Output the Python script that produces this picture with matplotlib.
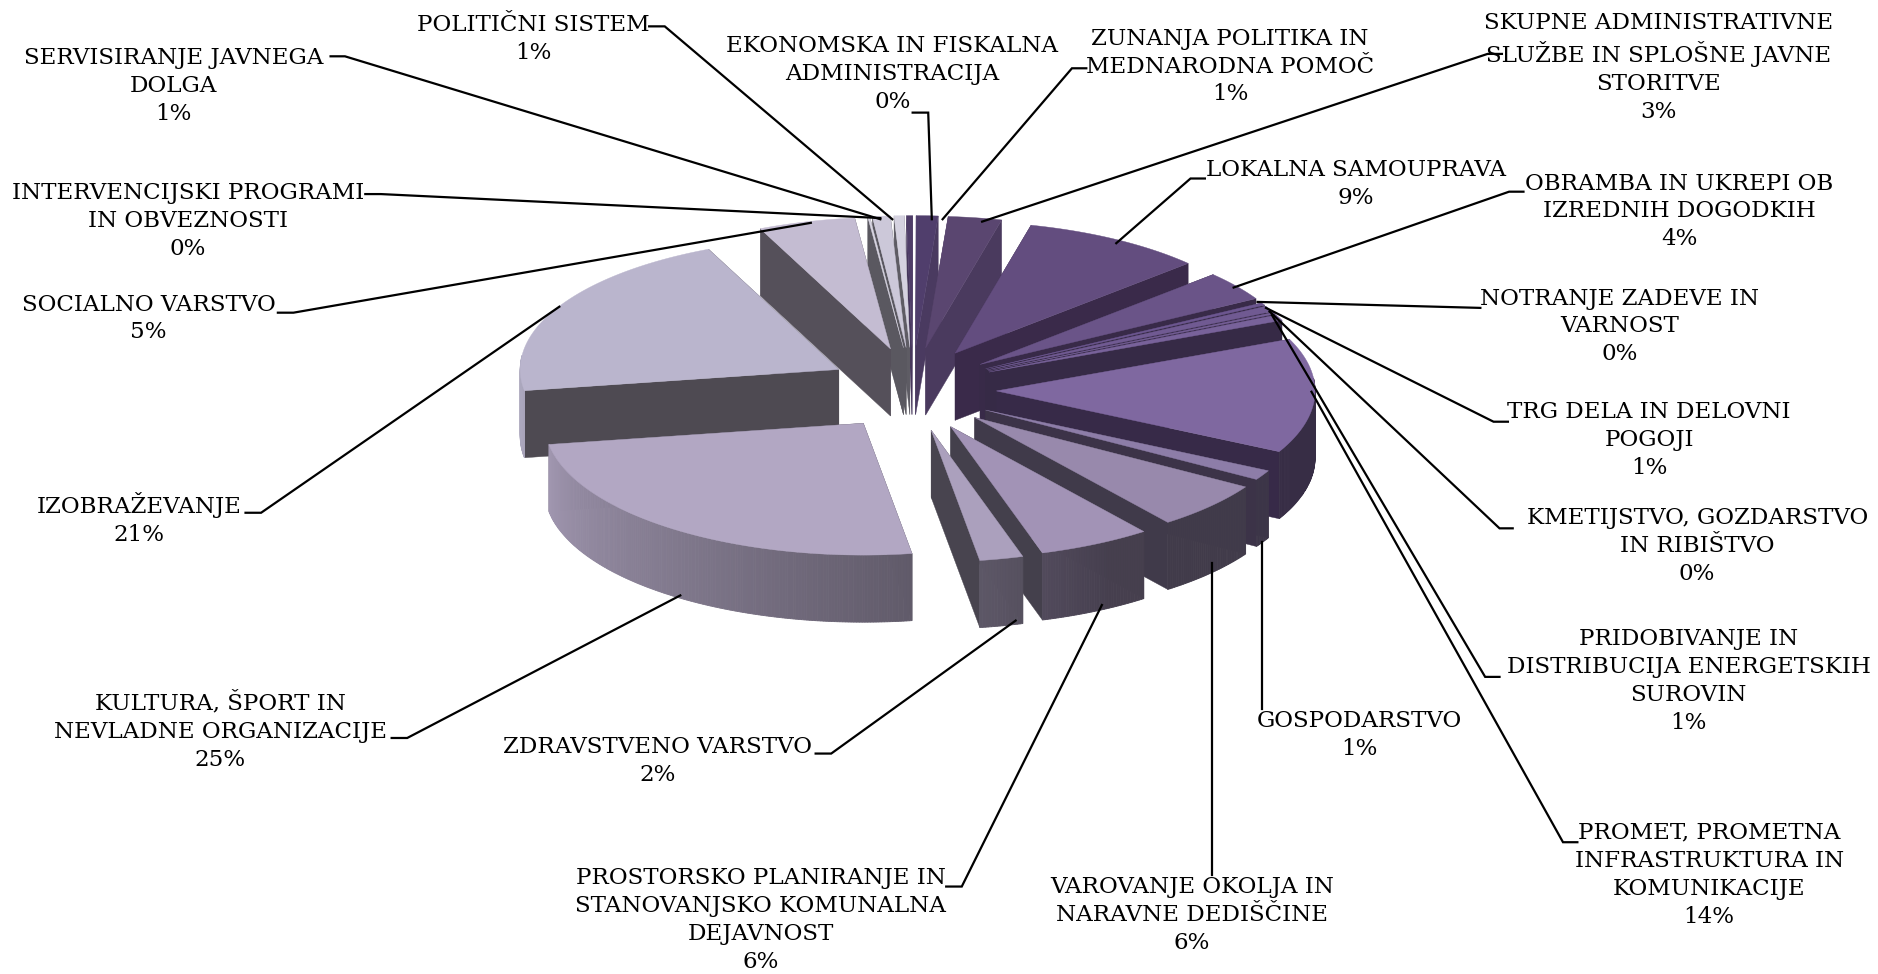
import numpy as np
import matplotlib
matplotlib.use('Agg')
import matplotlib.pyplot as plt
from matplotlib.patches import Polygon

# Delezi po podrocjih, v smeri urinega kazalca od vrha
categories = [
    'EKONOMSKA IN FISKALNA\nADMINISTRACIJA',
    'ZUNANJA POLITIKA IN\nMEDNARODNA POMOČ',
    'SKUPNE ADMINISTRATIVNE\nSLUŽBE IN SPLOŠNE JAVNE\nSTORITVE',
    'LOKALNA SAMOUPRAVA',
    'OBRAMBA IN UKREPI OB\nIZREDNIH DOGODKIH',
    'NOTRANJE ZADEVE IN\nVARNOST',
    'TRG DELA IN DELOVNI\nPOGOJI',
    'KMETIJSTVO, GOZDARSTVO\nIN RIBIŠTVO',
    'PRIDOBIVANJE IN\nDISTRIBUCIJA ENERGETSKIH\nSUROVIN',
    'PROMET, PROMETNA\nINFRASTRUKTURA IN\nKOMUNIKACIJE',
    'GOSPODARSTVO',
    'VAROVANJE OKOLJA IN\nNARAVNE DEDIŠČINE',
    'PROSTORSKO PLANIRANJE IN\nSTANOVANJSKO KOMUNALNA\nDEJAVNOST',
    'ZDRAVSTVENO VARSTVO',
    'KULTURA, ŠPORT IN\nNEVLADNE ORGANIZACIJE',
    'IZOBRAŽEVANJE',
    'SOCIALNO VARSTVO',
    'INTERVENCIJSKI PROGRAMI\nIN OBVEZNOSTI',
    'SERVISIRANJE JAVNEGA\nDOLGA',
    'POLITIČNI SISTEM',
]
values = [0.3, 1.1, 2.7, 9.2, 3.6, 0.3, 0.7, 0.2, 0.7, 14.0,
          1.2, 5.8, 5.7, 2.2, 24.8, 20.8, 4.9, 0.1, 0.9, 0.51]

top_colors = ['#4f3d68', '#503e6c', '#5a4670', '#634d7f', '#6a5488', '#6c5690', '#705a92',
              '#745e96', '#78629a', '#7f68a0', '#8d7da8', '#9889ac', '#a293b6', '#aba0bd',
              '#b2a7c3', '#bab5cd', '#c4bcd2', '#d8d5e2', '#ccc8d9', '#d5d2e0']
wall_colors = ['#46365c', '#4a3a60', '#4a3a5e', '#3a2a4a', '#382a48', '#362a46', '#362a46',
               '#362a46', '#362a46', '#372a48', '#3c3348', '#403a4a', '#44404c', '#48444f',
               '#4d4955', '#4e4a52', '#55505a', '#5a5860', '#5a5860', '#5e5c64']

# Polozaj napisov: sredina prve vrstice, nato crta do torte
label_pos = [(745, 38), (1027, 32), (1385, 19), (1132, 142), (1402, 153), (1352, 249),
             (1377, 344), (1417, 432), (1410, 533), (1427, 695), (1135, 602), (995, 740),
             (635, 733), (549, 623), (184, 586), (116, 420), (124, 254), (157, 161),
             (145, 48), (445, 21)]
leaders = [
    [(762, 94), (775, 94), (778, 183)],
    [(907, 57), (895, 57), (787, 183)],
    [(1254, 45), (1242, 45), (820, 185)],
    [(1006, 149), (994, 149), (932, 203)],
    [(1272, 160), (1260, 160), (1030, 240)],
    [(1236, 257), (1050, 252)],
    [(1259, 352), (1247, 352), (1057, 257)],
    [(1263, 441), (1252, 441), (1060, 260)],
    [(1252, 565), (1240, 565), (1062, 263)],
    [(1317, 703), (1305, 703), (1095, 327)],
    [(1054, 592), (1054, 452)],
    [(1012, 730), (1012, 470)],
    [(790, 740), (803, 740), (920, 505)],
    [(681, 629), (694, 629), (848, 518)],
    [(327, 616), (340, 616), (568, 497)],
    [(205, 428), (218, 428), (467, 256)],
    [(232, 261), (245, 261), (677, 186)],
    [(305, 162), (318, 162), (735, 182)],
    [(276, 47), (288, 47), (735, 183)],
    [(542, 22), (555, 22), (745, 183)],
]

cx, cy = 762, 325
rx, ry = 266, 110
ex, ey = 70, 35
depth = 56
start = -1.0


def shade(t):
    # Zunanja stena je levo svetlejsa kot desno
    return np.interp(t, [90, 150, 168, 265, 360], [0.43, 0.43, 0.53, 0.92, 0.92])


fig = plt.figure(figsize=(18.78, 9.74), dpi=100)
ax = fig.add_axes([0, 0, 1, 1])
ax.set_xlim(0, 1568)
ax.set_ylim(813, 0)
ax.axis('off')

total = sum(values)
edges = start + np.cumsum([0] + values) * 360 / total
order = sorted(range(len(values)), key=lambda i: -np.cos(np.radians((edges[i] + edges[i + 1]) / 2)))

for z, i in enumerate(order):
    a, b = edges[i], edges[i + 1]
    mid = np.radians((a + b) / 2)
    px = cx + ex * np.sin(mid)
    py = cy - ey * np.cos(mid)
    ts = np.linspace(a, b, max(3, int(b - a) * 2 + 2))
    rad = np.radians(ts)
    xs = px + rx * np.sin(rad)
    ys = py - ry * np.cos(rad)
    zo = z * 3 + 1
    # stranski steni
    for k in (0, -1):
        wall = [(px, py), (xs[k], ys[k]), (xs[k], ys[k] + depth), (px, py + depth)]
        ax.add_patch(Polygon(wall, fc=wall_colors[i], ec=wall_colors[i], lw=0.3, zorder=zo))
    # zunanja stena
    base = np.array(matplotlib.colors.to_rgb(top_colors[i]))
    for j in range(len(ts) - 1):
        if np.cos(rad[j]) > 0.1:
            continue
        c = base * shade(ts[j])
        quad = [(xs[j], ys[j]), (xs[j + 1], ys[j + 1]),
                (xs[j + 1], ys[j + 1] + depth), (xs[j], ys[j] + depth)]
        ax.add_patch(Polygon(quad, fc=c, ec=c, lw=0.6, zorder=zo + 1))
    top = [(px, py)] + list(zip(xs, ys))
    ax.add_patch(Polygon(top, fc=top_colors[i], ec=top_colors[i], lw=0.3, zorder=zo + 2))

for name, val, pos, line in zip(categories, values, label_pos, leaders):
    ax.text(pos[0], pos[1] - 9, f'{name}\n{round(val)}%', ha='center', va='top',
            family='DejaVu Serif', fontsize=16.6, linespacing=1.35, color='black', zorder=200)
    xs, ys = zip(*line)
    ax.plot(xs, ys, color='black', lw=1.6, zorder=150, solid_joinstyle='miter')

fig.savefig('out.png', dpi=100, facecolor='white')
